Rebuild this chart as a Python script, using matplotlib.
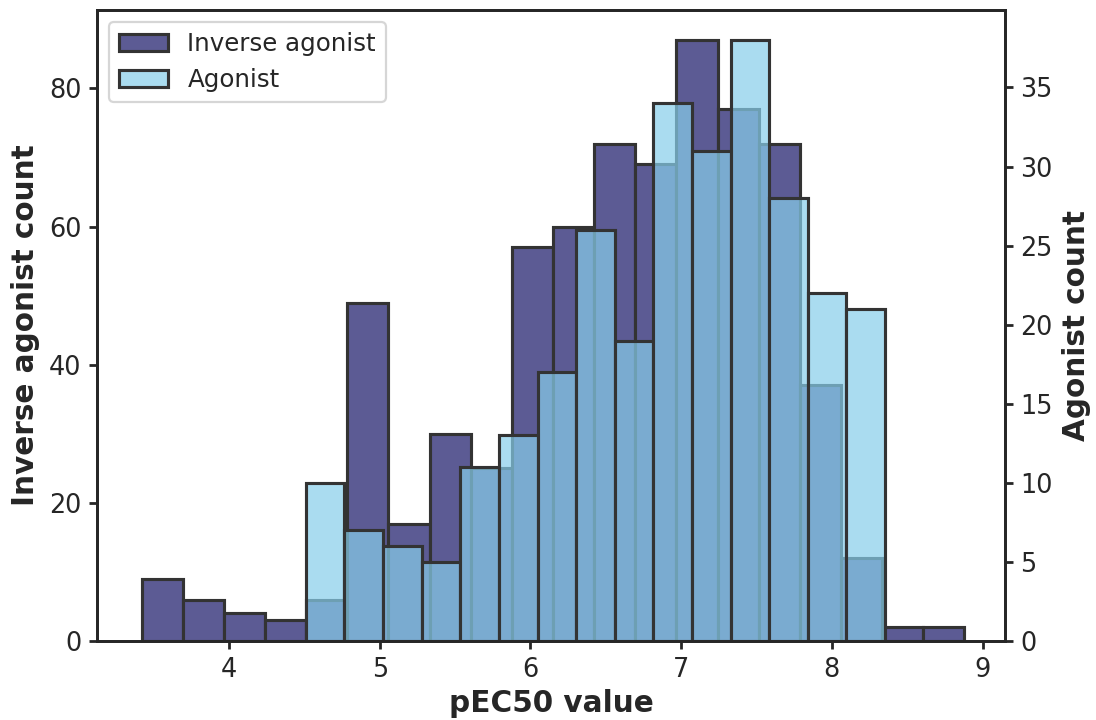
import numpy as np
import matplotlib
matplotlib.use("Agg")
import matplotlib.pyplot as plt

# Inverse agonist histogram (left axis)
inv_range = (3.42, 8.88)
inv_counts = [9, 6, 4, 3, 6, 49, 17, 30, 25, 57, 60, 72, 69, 87, 77, 72, 37, 12, 2, 2]

# Agonist histogram (right axis)
ago_range = (4.51, 8.353)
ago_counts = [10, 7, 6, 5, 11, 13, 17, 26, 19, 34, 31, 38, 28, 22, 21]

x_label = "pEC50 value"
left_label = "Inverse agonist count"
right_label = "Agonist count"
labels = ["Inverse agonist", "Agonist"]

inv_color = "#5c5b94"
ago_color = (135/255, 206/255, 235/255, 0.7)
edge = "#333333"
txt = "#262626"

plt.rcParams.update({
    "font.family": "DejaVu Sans",
    "axes.edgecolor": txt,
    "axes.linewidth": 1.25,
    "xtick.color": txt,
    "ytick.color": txt,
    "text.color": txt,
    "axes.labelcolor": txt,
    "xtick.major.width": 1.25,
    "ytick.major.width": 1.25,
})

fig = plt.figure(figsize=(1096/160, 720/160), dpi=160)
ax1 = fig.add_axes([97/1096, 1-641/720, (1005-97)/1096, (641-10)/720])
ax2 = ax1.twinx()

inv_edges = np.linspace(inv_range[0], inv_range[1], len(inv_counts) + 1)
ago_edges = np.linspace(ago_range[0], ago_range[1], len(ago_counts) + 1)

ax1.bar(inv_edges[:-1], inv_counts, width=np.diff(inv_edges), align="edge",
        facecolor=inv_color, edgecolor=edge, linewidth=1.4, label=labels[0])
ax2.bar(ago_edges[:-1], ago_counts, width=np.diff(ago_edges), align="edge",
        facecolor=ago_color, edgecolor=edge, linewidth=1.4, label=labels[1])

ax1.set_xlim(3.124, 9.149)

ax1.set_xlabel(x_label, fontsize=13.3, fontweight="bold", labelpad=3)
ax1.set_ylabel(left_label, fontsize=13.3, fontweight="bold")
ax2.set_ylabel(right_label, fontsize=13.3, fontweight="bold")

for a in (ax1, ax2):
    a.tick_params(labelsize=11.5)

ax1.set_xticks([4, 5, 6, 7, 8, 9])
ax1.set_yticks([0, 20, 40, 60, 80])
ax2.set_yticks([0, 5, 10, 15, 20, 25, 30, 35])

h1, l1 = ax1.get_legend_handles_labels()
h2, l2 = ax2.get_legend_handles_labels()
leg = ax2.legend(h1 + h2, l1 + l2, loc="upper left", fontsize=11,
                 fancybox=True, framealpha=0.8, edgecolor="#cccccc")

fig.savefig("out.png", dpi=160)
